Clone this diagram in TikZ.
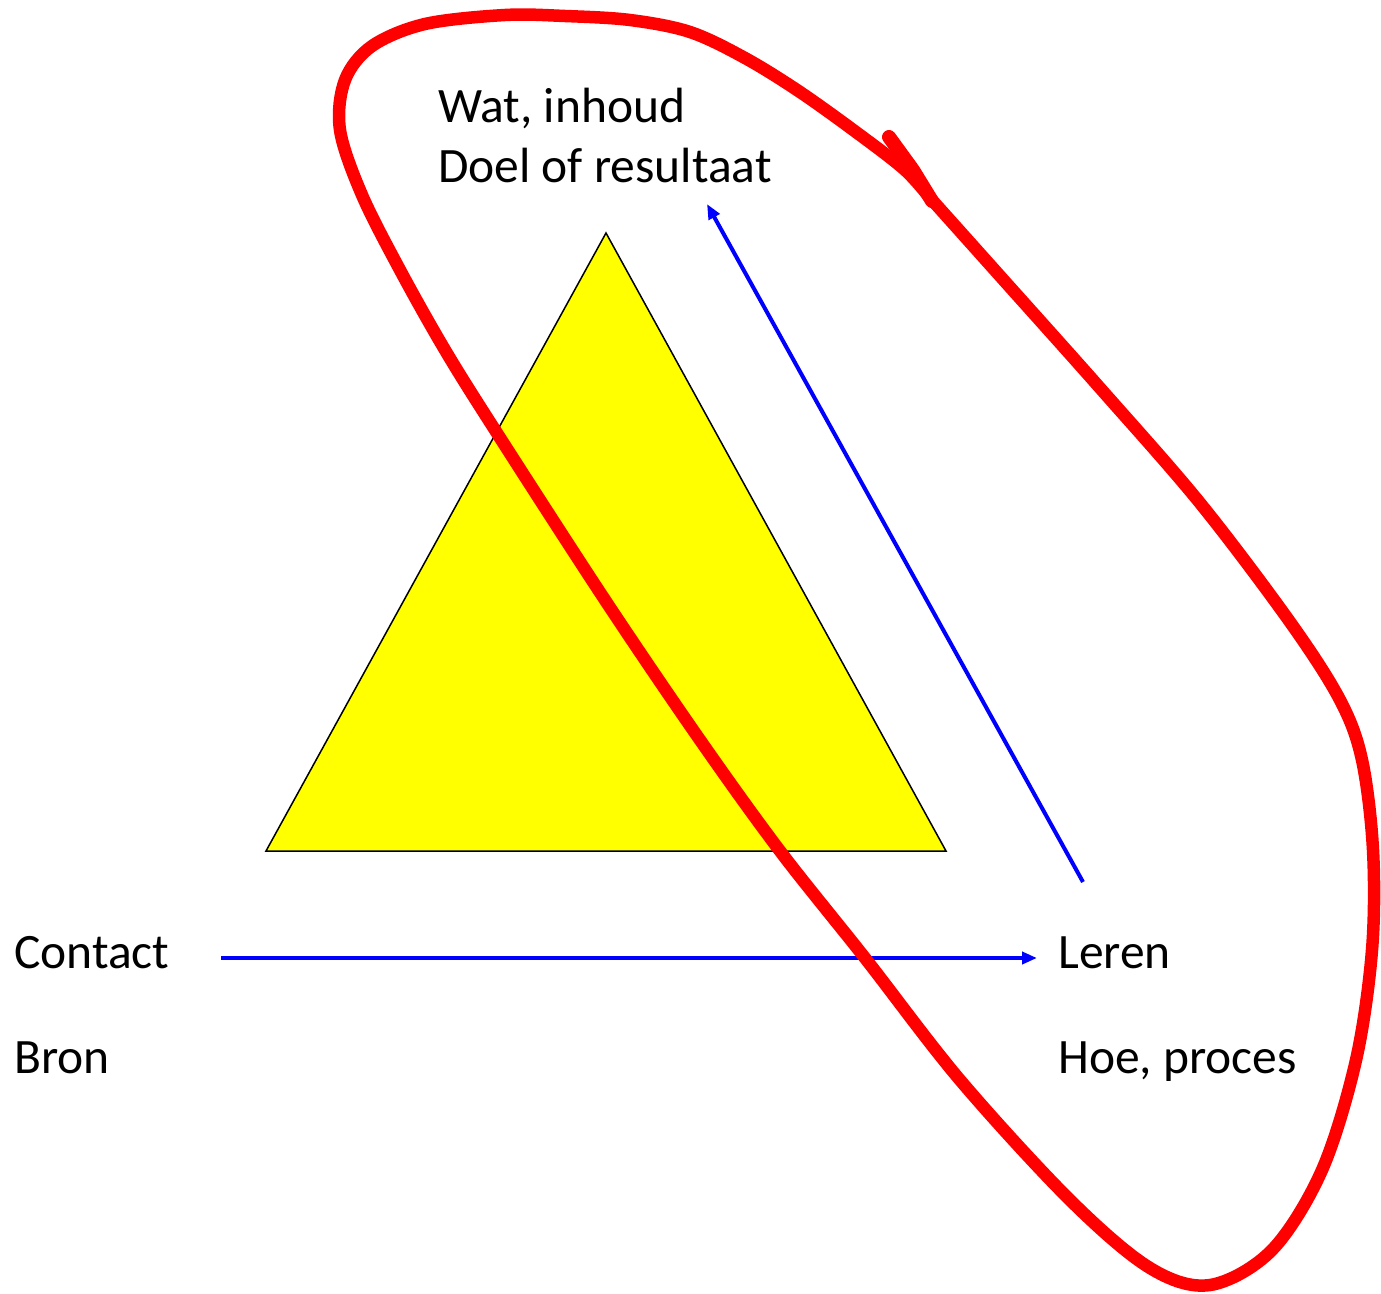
\documentclass[tikz,border=0pt]{standalone}
\usepackage{fontspec}
\setmainfont{Carlito}
\usetikzlibrary{arrows.meta}
\begin{document}
\begin{tikzpicture}[x=1pt,y=-1pt,
  lbl/.style={anchor=base west,inner sep=0pt,font=\fontsize{49.5}{59}\selectfont},
  bluearrow/.style={draw={rgb,255:red,0;green,0;blue,255},line width=4pt,-{Triangle[length=15pt,width=12pt]}},
  redloop/.style={draw={rgb,255:red,255;green,0;blue,0},line width=12.5pt,line cap=round,line join=round}]
\useasboundingbox (0,0) rectangle (1381,1293);
\fill[white] (0,0) rectangle (1381,1293);
% triangle
\draw[fill={rgb,255:red,255;green,255;blue,0},line width=1.5pt,line join=miter] (606,233) -- (266,851) -- (946,851) -- cycle;
% texts
\node[lbl] (wat) at (438,122) {Wat, inhoud};
\node[lbl] (doel) at (438,182) {Doel of resultaat};
\node[lbl] (contact) at (14,968) {Contact};
\node[lbl] (bron) at (14,1073) {Bron};
\node[lbl] (leren) at (1058,968) {Leren};
\node[lbl] (hoe) at (1058,1073) {Hoe, proces};
% arrows
\coordinate (hs) at (221,958);
\coordinate (he) at (1037,958);
\coordinate (ds) at (1083,882);
\coordinate (de) at (707,204);
\draw[bluearrow] (hs) -- (he);
\draw[bluearrow] (ds) -- (de);
% red loop
\draw[redloop] plot[smooth,tension=0.55] coordinates {
 (932,200) (1000,276) (1100,388) (1200,503) (1290,622) (1340,700) (1362,760)
 (1373,850) (1372,950) (1356,1060) (1322,1170) (1272,1250) (1210,1285)
 (1150,1268) (1070,1200) (960,1080) (865,958) (780,851) (700,740) (605,600) (495,430)
 (445,350) (400,270) (362,195) (340,130) (345,80) (372,46) (425,24) (505,15)
 (565,16) (630,20) (690,32) (745,58) (800,92) (860,135) (905,170) (930,198)};
\draw[redloop,line width=14pt] (889,137) -- (913,170) -- (932,201);
\end{tikzpicture}
\end{document}
